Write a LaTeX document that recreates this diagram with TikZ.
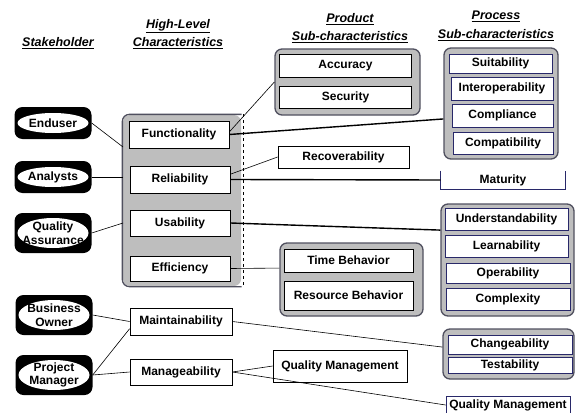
\documentclass[tikz,border=0pt]{standalone}
\usepackage{fontspec}
\setmainfont{Liberation Sans}
\usetikzlibrary{shapes}

\definecolor{navyline}{RGB}{40,40,105}
\definecolor{groupfill}{RGB}{190,190,190}
\definecolor{groupline}{RGB}{80,80,95}

\begin{document}
\begin{tikzpicture}[x = 1pt, y = -1pt]
\tikzstyle{headerStyle} = [font = \fontsize{12.5}{18.5}\selectfont\bfseries\itshape, align = center, inner sep = 0pt]
\tikzstyle{charStyle} = [draw, fill = white, line width = 0.8pt, inner sep = 0pt, font = \fontsize{12}{14}\selectfont\bfseries]
\tikzstyle{subStyle} = [charStyle, draw = navyline]
\tikzstyle{groupStyle} = [draw = groupline, fill = groupfill, line width = 1.3pt, rounded corners = 7pt, inner sep = 0pt]
\tikzstyle{stakeStyle} = [fill = black, rounded corners = 8pt, inner sep = 0pt, align = center, font = \fontsize{12}{13.5}\selectfont\bfseries, minimum width = 77pt, minimum height = 32pt, path picture = {\fill[white] (path picture bounding box.center) ellipse [x radius = 35.5pt, y radius = 10pt];}]
\tikzstyle{stakeTallStyle} = [stakeStyle, minimum height = 40pt, path picture = {\fill[white] (path picture bounding box.center) ellipse [x radius = 35.5pt, y radius = 15pt];}]
\tikzstyle{linkStyle} = [line width = 0.6pt]
\tikzstyle{boldLinkStyle} = [line width = 1.4pt]

\useasboundingbox (0,0) rectangle (575,412);

\node[headerStyle] (hStake) at (58,43) {\underline{Stakeholder}};
\node[headerStyle] (hHigh) at (178,34) {\underline{High-Level}\\\underline{Characteristics}};
\node[headerStyle] (hProd) at (350,28) {\underline{Product}\\\underline{Sub-characteristics}};
\node[headerStyle] (hProc) at (496,26) {\underline{Process}\\\underline{Sub-characteristics}};

\node[stakeStyle] (enduser) at (53,123) {Enduser};
\node[stakeStyle] (analysts) at (53,177) {Analysts};
\node[stakeTallStyle] (qa) at (53,233) {Quality\\Assurance};
\node[stakeTallStyle] (owner) at (54,315) {Business\\Owner};
\node[stakeTallStyle] (pm) at (54,375) {Project\\Manager};

\node[groupStyle, draw = none, minimum width = 118pt, minimum height = 171pt] (hlGroup) at (182,200.5) {};
\draw[groupline, line width = 1.3pt, rounded corners = 7pt] (hlGroup.north east) -- (hlGroup.north west) -- (hlGroup.south west) -- (hlGroup.south east);
\draw[dashed, line width = 0.8pt] ([xshift = 2pt]hlGroup.north east) -- ([xshift = 2pt]hlGroup.south east);

\node[charStyle, minimum width = 100pt, minimum height = 27pt] (func) at (179,134.5) {Functionality};
\node[charStyle, minimum width = 100pt, minimum height = 27pt] (rel) at (180,179.5) {Reliability};
\node[charStyle, minimum width = 100pt, minimum height = 26pt] (usab) at (180,223) {Usability};
\node[charStyle, minimum width = 100pt, minimum height = 25pt] (eff) at (180,268.5) {Efficiency};
\node[charStyle, minimum width = 102pt, minimum height = 27pt] (maint) at (181,321.5) {Maintainability};
\node[charStyle, minimum width = 102pt, minimum height = 26pt] (manage) at (181,372) {Manageability};

\node[groupStyle, minimum width = 145pt, minimum height = 66pt] (prodGroup) at (347.5,82) {};
\node[charStyle, minimum width = 132pt, minimum height = 23pt] (accuracy) at (345.5,65.5) {Accuracy};
\node[charStyle, minimum width = 132pt, minimum height = 22pt] (security) at (345.5,97) {Security};

\node[charStyle, minimum width = 131pt, minimum height = 22pt] (recov) at (343.5,157) {Recoverability};

\node[groupStyle, minimum width = 143pt, minimum height = 73pt] (timeGroup) at (351.5,279.5) {};
\node[charStyle, minimum width = 129pt, minimum height = 23pt] (timeBeh) at (348.5,260.5) {Time Behavior};
\node[charStyle, minimum width = 129pt, minimum height = 29pt] (resBeh) at (348.5,295.5) {Resource Behavior};

\node[charStyle, minimum width = 134pt, minimum height = 32pt] (qualMgmtA) at (340,366) {Quality Management};

\node[groupStyle, minimum width = 114pt, minimum height = 111pt] (procGroup) at (501,103.5) {};
\node[subStyle, minimum width = 103pt, minimum height = 19pt] (suit) at (500.5,63.5) {Suitability};
\node[subStyle, minimum width = 102pt, minimum height = 23pt] (interop) at (502,88.5) {Interoperability};
\node[subStyle, minimum width = 101pt, minimum height = 23pt] (compl) at (502.5,115.5) {Compliance};
\node[subStyle, minimum width = 100pt, minimum height = 22pt] (compat) at (503,143) {Compatibility};

\node[subStyle, draw = none, fill = none, minimum width = 124pt, minimum height = 18pt] (maturity) at (503,180) {Maturity};
\draw[navyline, line width = 0.8pt] (maturity.north west) -- (maturity.south west) -- (maturity.south east) -- (maturity.north east);

\node[groupStyle, minimum width = 133pt, minimum height = 112pt] (undGroup) at (507.5,260) {};
\node[subStyle, minimum width = 123pt, minimum height = 22pt] (underst) at (506.5,219) {Understandability};
\node[subStyle, minimum width = 123pt, minimum height = 22pt] (learn) at (506.5,246) {Learnability};
\node[subStyle, minimum width = 124pt, minimum height = 20pt] (oper) at (508,273) {Operability};
\node[subStyle, minimum width = 124pt, minimum height = 22pt] (complex) at (508,299) {Complexity};

\node[groupStyle, minimum width = 131pt, minimum height = 50pt] (changeGroup) at (508.5,354) {};
\node[subStyle, minimum width = 124pt, minimum height = 19pt] (change) at (510,344.5) {Changeability};
\node[subStyle, minimum width = 124pt, minimum height = 16pt] (test) at (510,365) {Testability};

\node[subStyle, minimum width = 124pt, minimum height = 17pt] (qualMgmtB) at (508,405) {Quality Management};

\coordinate (hlEndA) at (123,147);
\coordinate (hlEndB) at (123,177);
\coordinate (hlEndC) at (123,223);

\draw[linkStyle] (enduser.east) -- (hlEndA);
\draw[linkStyle] (analysts.east) -- (hlEndB);
\draw[linkStyle] (qa.east) -- (hlEndC);
\draw[linkStyle] (owner.east) -- (maint.west);
\draw[linkStyle] (pm.east) -- (maint.188);
\draw[linkStyle] (pm.east) -- (manage.west);
\draw[linkStyle] (func.3) -- (prodGroup.west);
\draw[boldLinkStyle] (func.east) -- (procGroup.195);
\draw[linkStyle] (rel.6) -- (recov.west);
\draw[boldLinkStyle] (rel.east) -- (maturity.west);
\draw[boldLinkStyle] (usab.east) -- (undGroup.156);
\draw[linkStyle] (eff.east) -- (timeGroup.171);
\draw[linkStyle] (maint.east) -- (changeGroup.174);
\draw[linkStyle] (manage.east) -- (qualMgmtA.west);
\draw[linkStyle] (manage.east) -- (qualMgmtB.west);
\end{tikzpicture}
\end{document}
